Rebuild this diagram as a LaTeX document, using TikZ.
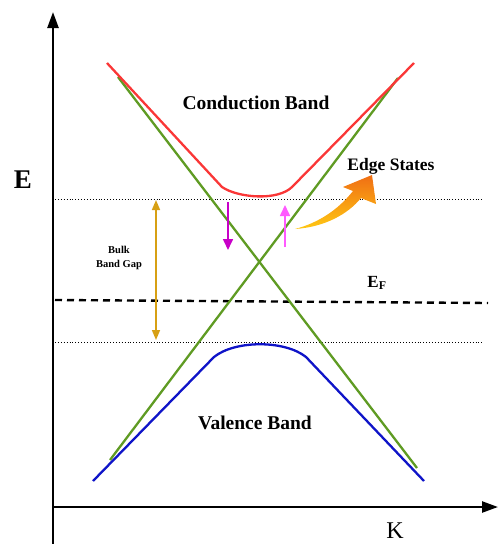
\documentclass[tikz,border=0pt]{standalone}
\usepackage{fontspec}
\setmainfont{Liberation Serif}
\usetikzlibrary{arrows.meta}
\definecolor{cred}{RGB}{250,55,55}
\definecolor{cgreen}{RGB}{95,155,35}
\definecolor{cblue}{RGB}{15,20,200}
\definecolor{cgold}{RGB}{215,160,20}
\definecolor{cmagd}{RGB}{200,0,200}
\definecolor{cmagl}{RGB}{255,90,255}
\definecolor{corange}{RGB}{240,110,20}
\definecolor{cyellow}{RGB}{255,200,20}
\tikzset{
  band/.style={line width=2.3pt},
  axis/.style={line width=2.4pt,-{Triangle[length=16pt,width=11pt]}},
  guide/.style={line width=0.9pt,dotted},
  lbl/.style={font=\bfseries,inner sep=0pt},
}
\begin{document}
\begin{tikzpicture}[x=1pt,y=-1pt]
\useasboundingbox (0,0) rectangle (498,544);
% axes
\coordinate (O) at (53,507);
\coordinate (Etop) at (53,12);
\coordinate (Kend) at (498,507);
\draw[axis] (53,544) -- (Etop);
\draw[axis] (O) -- (Kend);
\node[lbl,font=\bfseries\fontsize{27}{27}\selectfont] (E) at (23,180) {E};
\node[inner sep=0pt,font=\fontsize{24}{24}\selectfont] (K) at (395,531) {K};
% guides
\draw[guide] (55,199) -- (484,199);
\draw[guide] (55,342) -- (484,342);
\draw[line width=2.4pt,dash pattern=on 7pt off 5pt] (55,300) -- (488,303);
% green Dirac cone
\draw[band,cgreen] (118,77) -- (417,468);
\draw[band,cgreen] (110,460) -- (398,78);
% conduction band
\draw[band,cred,line join=round] (107,63) -- (222,187) .. controls (238,198) and (278,201) .. (292,187) -- (414,63);
% valence band
\draw[band,cblue,line join=round] (93,481) -- (214,357) .. controls (235,340) and (285,340) .. (306,357) -- (424,481);
% spin arrows
\draw[cmagd,line width=1.6pt,-{Triangle[length=11pt,width=10pt]}] (228,202) -- (228,250);
\draw[cmagl,line width=1.6pt,-{Triangle[length=11pt,width=10pt]}] (285,247) -- (285,205);
% gap arrow
\draw[cgold,line width=1.6pt,{Triangle[length=10pt,width=8pt]}-{Triangle[length=10pt,width=8pt]}] (156,200) -- (156,340);
% edge states arrow
\shade[left color=corange,right color=cyellow,shading angle=0]
  (295,229) .. controls (325,227) and (348,214) .. (361,198) -- (376,204) -- (372,175) -- (343,187) -- (353,191)
  .. controls (338,210) and (318,223) .. (295,229) -- cycle;
% labels
\node[lbl,font=\bfseries\fontsize{19.5}{20}\selectfont] (cb) at (256,103) {Conduction Band};
\node[lbl,font=\bfseries\fontsize{17.5}{18}\selectfont] (es) at (391,166) {Edge States};
\node[lbl,font=\bfseries\fontsize{19.5}{20}\selectfont] (vb) at (255,423) {Valence Band};
\node[lbl,font=\bfseries\fontsize{10.5}{13.5}\selectfont,align=center] (gap) at (119,258) {Bulk\\Band Gap};
\node[lbl,font=\bfseries\fontsize{17}{17}\selectfont] (ef) at (377,283) {E\textsubscript{F}};
\end{tikzpicture}
\end{document}
